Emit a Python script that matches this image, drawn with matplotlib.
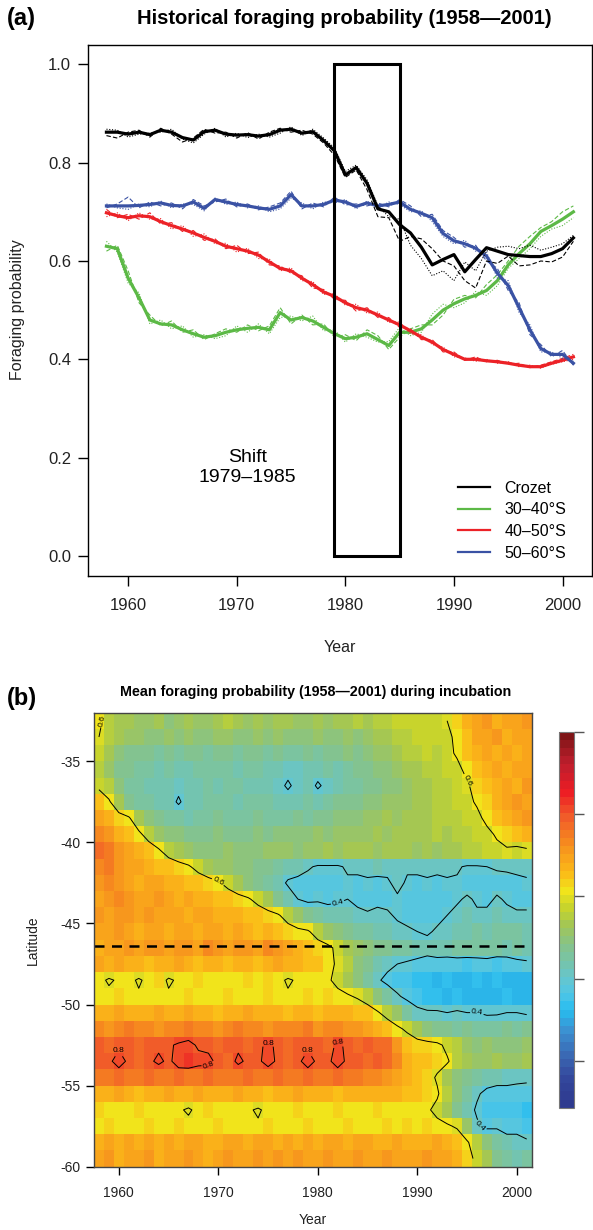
import matplotlib
matplotlib.use('Agg')
import matplotlib.pyplot as plt
import numpy as np
from matplotlib.colors import LinearSegmentedColormap
from matplotlib.patches import Rectangle
from matplotlib.lines import Line2D

plt.rcParams['font.family'] = ['Liberation Sans', 'DejaVu Sans']
plt.rcParams['axes.unicode_minus'] = False

# ---- panel (a): foraging probability per zone ----
years = np.arange(1958, 2002)

crozet_main = [0.862, 0.862, 0.858, 0.862, 0.857, 0.866, 0.862, 0.851, 0.846, 0.863, 0.866, 0.858, 0.856, 0.857, 0.854,
               0.857, 0.866, 0.868, 0.860, 0.863, 0.845, 0.824, 0.775, 0.790, 0.758, 0.706, 0.700, 0.674, 0.657, 0.628,
               0.592, 0.603, 0.613, 0.578, 0.603, 0.627, 0.620, 0.613, 0.611, 0.609, 0.609, 0.615, 0.625, 0.647]
crozet_dash = [0.855, 0.850, 0.862, 0.866, 0.852, 0.870, 0.858, 0.842, 0.850, 0.868, 0.860, 0.862, 0.850, 0.861, 0.848,
               0.862, 0.870, 0.862, 0.866, 0.858, 0.840, 0.815, 0.770, 0.785, 0.745, 0.690, 0.688, 0.640, 0.650, 0.645,
               0.625, 0.600, 0.590, 0.560, 0.545, 0.600, 0.595, 0.610, 0.590, 0.592, 0.600, 0.598, 0.608, 0.640]
crozet_dot = [0.868, 0.866, 0.852, 0.858, 0.860, 0.862, 0.868, 0.848, 0.840, 0.858, 0.870, 0.852, 0.860, 0.851, 0.858,
              0.852, 0.860, 0.873, 0.855, 0.868, 0.850, 0.830, 0.782, 0.795, 0.765, 0.712, 0.690, 0.685, 0.632, 0.605,
              0.570, 0.580, 0.560, 0.598, 0.580, 0.620, 0.628, 0.630, 0.625, 0.632, 0.622, 0.628, 0.635, 0.652]

s30_main = [0.630, 0.625, 0.565, 0.525, 0.480, 0.472, 0.470, 0.460, 0.452, 0.445, 0.448, 0.455, 0.460, 0.463, 0.465,
            0.460, 0.495, 0.480, 0.485, 0.478, 0.465, 0.452, 0.442, 0.445, 0.452, 0.440, 0.428, 0.455, 0.455, 0.462,
            0.480, 0.500, 0.513, 0.523, 0.530, 0.540, 0.560, 0.592, 0.615, 0.635, 0.660, 0.672, 0.685, 0.700]
s30_dash = [0.620, 0.632, 0.580, 0.515, 0.490, 0.468, 0.478, 0.455, 0.460, 0.440, 0.452, 0.462, 0.455, 0.470, 0.458,
            0.468, 0.505, 0.472, 0.490, 0.470, 0.472, 0.445, 0.450, 0.438, 0.460, 0.448, 0.420, 0.445, 0.462, 0.470,
            0.470, 0.490, 0.522, 0.530, 0.525, 0.552, 0.572, 0.600, 0.630, 0.650, 0.668, 0.680, 0.700, 0.712]
s30_dot = [0.640, 0.618, 0.555, 0.535, 0.472, 0.480, 0.462, 0.468, 0.445, 0.450, 0.442, 0.448, 0.468, 0.455, 0.472,
           0.452, 0.485, 0.488, 0.478, 0.488, 0.458, 0.460, 0.435, 0.452, 0.445, 0.435, 0.436, 0.465, 0.448, 0.455,
           0.492, 0.512, 0.505, 0.515, 0.538, 0.530, 0.550, 0.585, 0.605, 0.625, 0.650, 0.665, 0.672, 0.688]

s40_main = [0.698, 0.692, 0.688, 0.692, 0.690, 0.680, 0.672, 0.665, 0.657, 0.648, 0.640, 0.630, 0.625, 0.620, 0.612,
            0.598, 0.585, 0.580, 0.565, 0.552, 0.537, 0.528, 0.515, 0.505, 0.500, 0.490, 0.480, 0.470, 0.458, 0.445,
            0.435, 0.420, 0.410, 0.400, 0.400, 0.397, 0.395, 0.392, 0.388, 0.385, 0.385, 0.392, 0.398, 0.405]
s40_dash = [0.705, 0.688, 0.695, 0.685, 0.698, 0.675, 0.678, 0.660, 0.662, 0.642, 0.645, 0.625, 0.632, 0.615, 0.618,
            0.592, 0.590, 0.575, 0.570, 0.545, 0.542, 0.522, 0.520, 0.498, 0.505, 0.485, 0.485, 0.465, 0.462, 0.440,
            0.440, 0.415, 0.415, 0.398, 0.405, 0.395, 0.398, 0.390, 0.392, 0.383, 0.388, 0.395, 0.402, 0.410]
s40_dot = [0.690, 0.698, 0.682, 0.698, 0.685, 0.686, 0.665, 0.672, 0.650, 0.655, 0.635, 0.636, 0.618, 0.626, 0.605,
           0.604, 0.580, 0.586, 0.560, 0.558, 0.532, 0.534, 0.510, 0.512, 0.494, 0.496, 0.475, 0.476, 0.452, 0.450,
           0.430, 0.425, 0.405, 0.403, 0.396, 0.400, 0.392, 0.395, 0.385, 0.388, 0.382, 0.390, 0.395, 0.400]

s50_main = [0.712, 0.712, 0.712, 0.713, 0.715, 0.718, 0.713, 0.712, 0.720, 0.707, 0.725, 0.720, 0.715, 0.712, 0.708,
            0.705, 0.712, 0.735, 0.712, 0.712, 0.715, 0.724, 0.720, 0.711, 0.718, 0.712, 0.715, 0.720, 0.705, 0.697,
            0.688, 0.656, 0.641, 0.635, 0.626, 0.610, 0.575, 0.550, 0.505, 0.460, 0.422, 0.410, 0.410, 0.392]
s50_dash = [0.708, 0.716, 0.730, 0.708, 0.720, 0.712, 0.718, 0.706, 0.725, 0.712, 0.720, 0.726, 0.710, 0.716, 0.704,
            0.710, 0.718, 0.742, 0.706, 0.718, 0.710, 0.730, 0.714, 0.716, 0.712, 0.718, 0.710, 0.725, 0.712, 0.690,
            0.695, 0.662, 0.648, 0.628, 0.632, 0.600, 0.585, 0.540, 0.515, 0.450, 0.430, 0.405, 0.418, 0.388]
s50_dot = [0.716, 0.708, 0.705, 0.716, 0.710, 0.722, 0.708, 0.716, 0.715, 0.702, 0.728, 0.715, 0.720, 0.708, 0.712,
           0.700, 0.706, 0.728, 0.718, 0.706, 0.720, 0.718, 0.725, 0.706, 0.722, 0.706, 0.720, 0.715, 0.700, 0.702,
           0.680, 0.650, 0.635, 0.642, 0.620, 0.618, 0.565, 0.560, 0.495, 0.470, 0.415, 0.415, 0.402, 0.396]

zone_names = ['Crozet', '30\u201340\u00b0S', '40\u201350\u00b0S', '50\u201360\u00b0S']
zone_colors = ['black', '#5cb946', '#ec2227', '#3a52a4']

# ---- panel (b): mean foraging probability (%), rows from -32.5 down to -59.5 ----
lat_rows = [-32.5, -33.5, -34.5, -35.5, -36.5, -37.5, -38.5, -39.5, -40.5, -41.5, -42.5, -43.5, -44.5, -45.5,
            -46.5, -47.5, -48.5, -49.5, -50.5, -51.5, -52.5, -53.5, -54.5, -55.5, -56.5, -57.5, -58.5, -59.5]
prob_rows = [
    [62, 56, 54, 53, 52, 52, 53, 50, 52, 53, 51, 52, 54, 55, 53, 51, 53, 52, 54, 53, 51, 52, 53, 52, 54, 53, 55, 54, 56, 55, 57, 58, 57, 58, 57, 60, 64, 67, 70, 72, 68, 70, 69, 72],
    [60, 55, 53, 52, 51, 50, 49, 51, 50, 52, 50, 49, 51, 52, 50, 49, 51, 50, 52, 50, 49, 50, 51, 50, 49, 51, 50, 52, 53, 54, 55, 56, 57, 58, 57, 58, 62, 66, 69, 70, 71, 68, 70, 69],
    [58, 54, 50, 48, 47, 48, 46, 47, 46, 48, 47, 46, 48, 47, 46, 47, 48, 46, 47, 45, 46, 47, 46, 48, 47, 49, 48, 50, 51, 52, 53, 55, 56, 57, 56, 58, 61, 65, 68, 69, 67, 70, 68, 69],
    [56, 52, 48, 47, 46, 45, 44, 45, 43, 44, 46, 45, 46, 45, 44, 45, 46, 44, 43, 42, 42, 44, 43, 45, 44, 46, 47, 48, 49, 50, 52, 53, 54, 55, 56, 57, 58, 62, 66, 68, 70, 67, 69, 70],
    [58, 55, 49, 46, 45, 44, 43, 43, 42, 43, 44, 45, 44, 45, 46, 44, 43, 44, 42, 39, 42, 43, 39, 42, 44, 45, 46, 47, 48, 49, 50, 52, 53, 54, 55, 56, 57, 59, 63, 66, 68, 70, 68, 71],
    [66, 61, 54, 48, 46, 45, 44, 43, 39, 43, 44, 45, 46, 45, 44, 45, 46, 45, 44, 43, 44, 45, 44, 46, 47, 48, 48, 49, 50, 51, 52, 52, 53, 54, 55, 56, 57, 58, 61, 64, 68, 70, 71, 69],
    [70, 68, 63, 61, 53, 49, 47, 46, 45, 44, 45, 46, 47, 46, 45, 46, 47, 46, 45, 46, 47, 46, 47, 48, 49, 49, 50, 51, 52, 53, 52, 53, 54, 54, 55, 55, 56, 57, 58, 62, 65, 68, 70, 71],
    [74, 72, 68, 66, 62, 56, 52, 50, 49, 48, 47, 48, 49, 48, 47, 48, 49, 48, 49, 50, 49, 50, 51, 50, 51, 52, 51, 52, 53, 52, 53, 54, 53, 54, 55, 54, 55, 56, 57, 58, 61, 64, 66, 67],
    [77, 75, 72, 70, 68, 65, 61, 56, 53, 51, 50, 49, 50, 51, 50, 49, 50, 51, 52, 51, 50, 51, 52, 53, 52, 53, 54, 53, 52, 53, 54, 53, 52, 53, 52, 53, 54, 55, 56, 57, 58, 59, 58, 59],
    [73, 76, 72, 70, 69, 68, 66, 65, 63, 61, 57, 54, 52, 51, 50, 49, 48, 47, 46, 44, 43, 41, 39, 39, 39, 41, 42, 42, 43, 42, 42, 41, 42, 42, 42, 42, 41, 39, 39, 40, 41, 41, 42, 42],
    [72, 74, 71, 70, 68, 70, 69, 67, 68, 66, 65, 63, 61, 57, 53, 50, 48, 46, 43, 39, 38, 37, 37, 38, 37, 39, 38, 39, 38, 39, 42, 39, 38, 39, 38, 39, 39, 37, 37, 38, 37, 38, 38, 39],
    [70, 72, 73, 71, 70, 69, 71, 70, 68, 69, 67, 68, 66, 65, 63, 61, 57, 53, 48, 44, 40, 38, 39, 38, 39, 40, 38, 37, 38, 38, 39, 38, 37, 38, 37, 38, 39, 41, 39, 38, 41, 39, 38, 38],
    [72, 70, 71, 72, 70, 71, 70, 69, 70, 68, 70, 69, 68, 67, 68, 66, 65, 63, 61, 56, 52, 48, 45, 44, 43, 44, 42, 41, 42, 41, 39, 38, 38, 37, 38, 40, 42, 43, 41, 42, 43, 42, 41, 41],
    [70, 69, 71, 70, 68, 70, 69, 68, 70, 69, 68, 69, 70, 68, 69, 67, 66, 68, 66, 64, 62, 61, 56, 52, 49, 47, 46, 45, 44, 43, 42, 41, 40, 39, 41, 42, 43, 44, 45, 44, 45, 46, 45, 44],
    [68, 70, 69, 71, 70, 72, 71, 70, 72, 71, 70, 73, 72, 70, 71, 72, 70, 73, 71, 70, 68, 66, 64, 62, 58, 54, 51, 49, 48, 47, 46, 45, 44, 43, 43, 44, 45, 46, 45, 46, 45, 44, 45, 44],
    [70, 68, 69, 67, 68, 66, 68, 67, 69, 68, 66, 67, 68, 66, 67, 68, 66, 67, 69, 68, 67, 66, 65, 62, 59, 55, 50, 47, 44, 42, 40, 39, 38, 37, 38, 37, 37, 36, 37, 37, 36, 37, 38, 39],
    [62, 59, 61, 62, 59, 62, 63, 59, 61, 62, 63, 62, 61, 62, 61, 63, 62, 63, 62, 59, 61, 62, 61, 61, 58, 54, 50, 46, 41, 38, 36, 35, 33, 34, 32, 33, 32, 31, 33, 32, 33, 31, 32, 32],
    [61, 62, 63, 62, 61, 62, 62, 61, 62, 63, 62, 61, 62, 63, 62, 61, 62, 63, 62, 61, 62, 63, 62, 63, 62, 61, 59, 55, 50, 45, 41, 38, 36, 34, 33, 32, 33, 32, 31, 32, 31, 33, 32, 31],
    [68, 67, 69, 68, 67, 68, 69, 67, 68, 69, 67, 68, 66, 68, 67, 69, 68, 67, 68, 66, 67, 68, 66, 67, 68, 67, 66, 65, 61, 56, 51, 46, 42, 41, 41, 40, 41, 40, 40, 39, 39, 40, 40, 39],
    [74, 72, 73, 75, 74, 73, 72, 74, 73, 75, 74, 73, 72, 74, 75, 73, 74, 72, 73, 74, 73, 75, 72, 74, 73, 72, 71, 70, 68, 66, 62, 58, 53, 50, 48, 47, 46, 47, 46, 45, 46, 47, 46, 47],
    [79, 78, 79, 79, 78, 79, 79, 79, 81, 82, 79, 79, 78, 79, 79, 78, 79, 81, 79, 78, 79, 79, 79, 78, 81, 79, 78, 79, 78, 77, 72, 66, 64, 63, 62, 58, 55, 52, 50, 51, 50, 49, 50, 51],
    [79, 79, 82, 79, 78, 79, 81, 79, 82, 83, 82, 81, 79, 78, 81, 79, 79, 82, 79, 78, 79, 82, 79, 79, 82, 79, 79, 78, 79, 78, 73, 68, 66, 65, 63, 61, 56, 53, 51, 52, 53, 52, 51, 53],
    [76, 75, 77, 76, 75, 77, 76, 75, 77, 76, 75, 77, 76, 75, 76, 77, 75, 76, 77, 75, 76, 77, 76, 75, 77, 76, 75, 74, 73, 72, 70, 67, 65, 63, 59, 54, 50, 47, 45, 44, 43, 42, 42, 41],
    [68, 67, 69, 68, 66, 68, 67, 69, 68, 67, 69, 68, 67, 68, 69, 67, 68, 66, 68, 67, 69, 68, 67, 68, 66, 67, 68, 67, 68, 67, 68, 66, 65, 63, 61, 55, 50, 46, 41, 38, 37, 38, 37, 38],
    [63, 62, 61, 62, 63, 62, 61, 62, 61, 59, 62, 63, 62, 61, 62, 61, 59, 62, 61, 62, 63, 62, 61, 62, 63, 62, 61, 62, 63, 62, 61, 62, 61, 61, 58, 54, 48, 43, 39, 36, 35, 36, 35, 33],
    [62, 63, 62, 61, 62, 63, 62, 61, 63, 62, 61, 62, 63, 62, 61, 62, 61, 63, 62, 61, 62, 63, 62, 61, 62, 63, 62, 61, 62, 63, 62, 63, 62, 63, 62, 61, 59, 52, 41, 38, 39, 37, 38, 36],
    [68, 70, 67, 69, 68, 70, 67, 69, 68, 70, 69, 67, 68, 70, 69, 68, 70, 69, 68, 70, 67, 69, 68, 70, 69, 68, 70, 69, 68, 67, 69, 68, 67, 68, 69, 67, 65, 61, 55, 50, 45, 43, 42, 41],
    [69, 71, 68, 70, 69, 71, 68, 70, 69, 71, 70, 68, 69, 71, 70, 69, 71, 70, 72, 69, 71, 70, 69, 71, 70, 69, 71, 70, 69, 71, 70, 69, 70, 71, 69, 70, 68, 63, 58, 53, 47, 45, 44, 45],
]
crozet_lat = -46.4
contour_levels = [0.4, 0.6, 0.8]

# colour scale, as in the original colour key
key_values = [0.087, 0.15, 0.20, 0.27, 0.32, 0.36, 0.40, 0.43, 0.48, 0.53, 0.57, 0.615, 0.66, 0.72, 0.80, 0.86, 0.93, 1.0]
key_colors = ['#2e3a8f', '#33479c', '#3a63b0', '#3b92d2', '#27bdef', '#50c6e6', '#66c6cc', '#72c4b2', '#86c38a',
              '#a2c655', '#c4d32e', '#f1e41b', '#fbbb18', '#f7941d', '#f15a29', '#ed1c24', '#be1e2d', '#7f1416']

vmin, vmax = key_values[0], key_values[-1]
cmap = LinearSegmentedColormap.from_list(
    'forage', [((v - vmin) / (vmax - vmin), c) for v, c in zip(key_values, key_colors)], N=46)

fig = plt.figure(figsize=(5.93, 12.30), dpi=100)

# ---------------- (a) ----------------
ax1 = fig.add_axes([0.148, 0.532, 0.8504, 0.4317])
series = [(s30_main, s30_dash, s30_dot), (s40_main, s40_dash, s40_dot),
          (s50_main, s50_dash, s50_dot), (crozet_main, crozet_dash, crozet_dot)]
order = [1, 2, 3, 0]
for (main, dash, dot), k in zip(series, order):
    col = zone_colors[k]
    ax1.plot(years, dash, color=col, lw=0.8, ls=(0, (4, 2)))
    ax1.plot(years, dot, color=col, lw=0.8, ls=(0, (1, 1.5)))
    ax1.plot(years, main, color=col, lw=2.3)

ax1.add_patch(Rectangle((1979, 0), 6, 1.0, fill=False, ec='black', lw=2.2, zorder=5))
ax1.text(1971, 0.18, 'Shift\n1979\u20131985', ha='center', va='center', fontsize=14, linespacing=1.3)

ax1.set_xlim(1956.28, 2002.72)
ax1.set_ylim(-0.04, 1.04)
ax1.set_xticks([1960, 1970, 1980, 1990, 2000])
ax1.set_yticks([0.0, 0.2, 0.4, 0.6, 0.8, 1.0])
ax1.set_yticklabels(['0.0', '0.2', '0.4', '0.6', '0.8', '1.0'])
ax1.tick_params(axis='x', labelsize=12, length=7, width=1, pad=9, labelcolor='#222222')
ax1.tick_params(axis='y', labelsize=12, length=7, width=1, pad=5, labelcolor='#222222')
for sp in ax1.spines.values():
    sp.set_linewidth(1.0)

handles = [Line2D([], [], color=c, lw=1.6) for c in zone_colors]
ax1.legend(handles, zone_names, loc='lower left', bbox_to_anchor=(0.734, 0.028), frameon=False,
           fontsize=11.5, handlelength=2.0, handletextpad=0.9, labelspacing=0.42, borderpad=0, borderaxespad=0)

fig.text(0.58, 0.985, 'Historical foraging probability (1958\u20142001)', ha='center', va='center',
         fontsize=14.5, fontweight='bold')
fig.text(0.012, 0.985, '(a)', ha='left', va='center', fontsize=17, fontweight='bold')
fig.text(0.573, 0.4732, 'Year', ha='center', va='center', fontsize=11.5, color='#222222')
fig.text(0.030, 0.748, 'Foraging probability', ha='center', va='center', rotation=90, fontsize=11.5,
         color='#222222')

# ---------------- (b) ----------------
ax2 = fig.add_axes([0.1585, 0.0515, 0.7381, 0.3691])
Z = np.flipud(np.array(prob_rows, dtype=float) / 100.0)
lats = np.array(lat_rows[::-1])
year_edges = np.append(years - 0.5, years[-1] + 0.5)
lat_edges = np.append(lats - 0.5, lats[-1] + 0.5)
mesh = ax2.pcolormesh(year_edges, lat_edges, Z, cmap=cmap, vmin=vmin, vmax=vmax, shading='flat',
                      antialiased=False, edgecolors='none')
cs = ax2.contour(years, lats, Z, levels=contour_levels, colors='black', linewidths=0.7)
ax2.clabel(cs, fmt='%.1f', fontsize=6, inline=True, inline_spacing=1)
ax2.axhline(crozet_lat, color='black', lw=1.8, ls=(0, (4, 3)))

ax2.set_xlim(year_edges[0], year_edges[-1])
ax2.set_ylim(lat_edges[0], lat_edges[-1])
ax2.set_xticks([1960, 1970, 1980, 1990, 2000])
ax2.set_yticks([-35, -40, -45, -50, -55, -60])
ax2.tick_params(axis='x', labelsize=10, length=6, width=1, pad=8, labelcolor='#222222')
ax2.tick_params(axis='y', labelsize=10, length=6, width=1, pad=4, labelcolor='#222222')
for sp in ax2.spines.values():
    sp.set_linewidth(1.0)
    sp.set_color('#444444')

fig.text(0.533, 0.4374, 'Mean foraging probability (1958\u20142001) during incubation', ha='center', va='center',
         fontsize=10.3, fontweight='bold')
fig.text(0.012, 0.4325, '(b)', ha='left', va='center', fontsize=17, fontweight='bold')
fig.text(0.528, 0.0081, 'Year', ha='center', va='center', fontsize=10, color='#222222')
fig.text(0.0556, 0.236, 'Latitude', ha='center', va='center', rotation=90, fontsize=10, color='#222222')

# colour key: its labels fall outside the picture in the original, so only the ticks are drawn
cax = fig.add_axes([0.9427, 0.0994, 0.0253, 0.3057])
cb = fig.colorbar(mesh, cax=cax)
cb.set_ticks([0.2, 0.4, 0.6, 0.8, 1.0])
cb.set_ticklabels([])
cb.outline.set_edgecolor('#777777')
cb.outline.set_linewidth(0.8)
cax.tick_params(length=7, width=1, color='#555555')

fig.savefig('out.png', dpi=100)
